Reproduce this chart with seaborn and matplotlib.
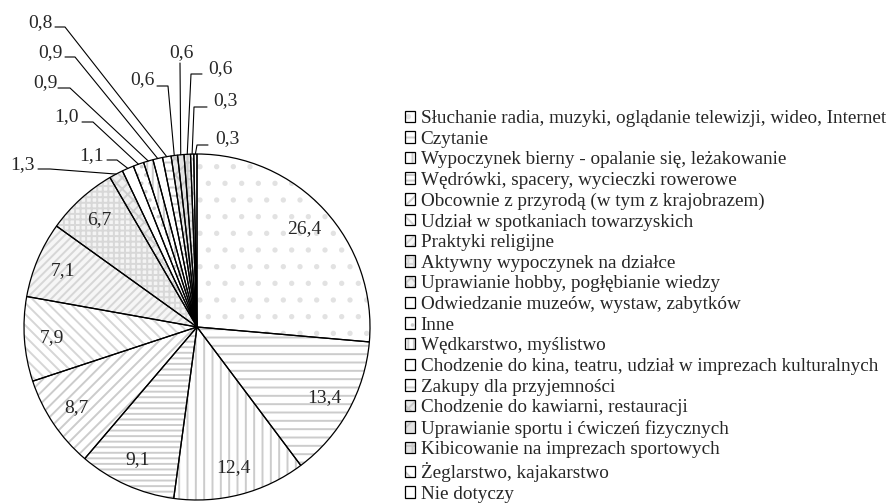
import numpy as np
import matplotlib
matplotlib.use('Agg')
import matplotlib.pyplot as plt
from matplotlib.patches import Rectangle
from matplotlib.legend_handler import HandlerTuple
import seaborn as sns

categories = [
    "Słuchanie radia, muzyki, oglądanie telewizji, wideo, Internet",
    "Czytanie",
    "Wypoczynek bierny - opalanie się, leżakowanie",
    "Wędrówki, spacery, wycieczki rowerowe",
    "Obcownie z przyrodą (w tym z krajobrazem)",
    "Udział w spotkaniach towarzyskich",
    "Praktyki religijne",
    "Aktywny wypoczynek na działce",
    "Uprawianie hobby, pogłębianie wiedzy",
    "Odwiedzanie muzeów, wystaw, zabytków",
    "Inne",
    "Wędkarstwo, myślistwo",
    "Chodzenie do kina, teatru, udział w imprezach kulturalnych",
    "Zakupy dla przyjemności",
    "Chodzenie do kawiarni, restauracji",
    "Uprawianie sportu i ćwiczeń fizycznych",
    "Kibicowanie na imprezach sportowych",
    "Żeglarstwo, kajakarstwo",
    "Nie dotyczy",
]
values = [26.4, 13.4, 12.4, 9.1, 8.7, 7.9, 7.1, 6.7, 1.3, 1.1, 1.0,
          0.9, 0.9, 0.8, 0.6, 0.6, 0.6, 0.3, 0.3]

hatches = ['.', '--', '||', '---', '///', '\\\\\\', '////', '+++',
           'xxx', '', '..', '|||', '', '--', 'xx', '//', '++', '\\\\', '']
fills = ['white', 'white', 'white', 'white', 'white', 'white', '#f6f6f6', '#f4f4f4',
         '#f0f0f0', 'white', 'white', 'white', 'white', 'white', '#e8e8e8', '#e2e2e2',
         '#e4e4e4', 'white', 'white']
hatch_colors = ['#e2e2e2', '#cccccc', '#cccccc', '#cccccc', '#cccccc', '#d6d6d6',
                '#d6d6d6', '#d8d8d8', '#d0d0d0', '#cccccc', '#cccccc', '#cccccc',
                '#cccccc', '#cccccc', '#c8c8c8', '#c8c8c8', '#c8c8c8', '#cccccc', '#cccccc']

# text x, text y, ha, line start x, line start y, elbow x  (pixels)
small_layout = [
    (35, 165, 'right', 38, 169, 50),
    (104, 156, 'right', 107, 160, 117),
    (79, 117, 'right', 82, 122, 93),
    (58, 83, 'right', 58, 88, 70),
    (63, 53, 'right', 65, 57, 75),
    (53, 23, 'right', 55, 27, 65),
    (155, 80, 'right', 157, 86, 168),
    (181, 53, 'center', 180, 63, 180),
    (208, 69, 'left', 202, 74, 191),
    (213, 101, 'left', 207, 107, 194),
    (215, 139, 'left', 208, 145, 197),
]

sns.set_theme(style='white')
plt.rcParams['font.family'] = ['Liberation Serif', 'DejaVu Serif']
plt.rcParams['hatch.linewidth'] = 1.4

W, H = 888, 504
cx, cy, R = 197, 327, 173

fig = plt.figure(figsize=(W / 100, H / 100), dpi=100)
ax = fig.add_axes([0, 0, 400 / W, 1])

wedges, _ = ax.pie(values, startangle=90, counterclock=False, colors=fills,
                   hatch=hatches, wedgeprops=dict(linewidth=0))
for w, hc in zip(wedges, hatch_colors):
    w.set_edgecolor(hc)
outline, _ = ax.pie(values, startangle=90, counterclock=False,
                    wedgeprops=dict(fill=False, edgecolor='black', linewidth=0.9))

ax.set_aspect('auto')
ax.set_xlim((0 - cx) / R, (400 - cx) / R)
ax.set_ylim((cy - H) / R, cy / R)
ax.axis('off')


def to_data(x, y):
    return (x - cx) / R, (cy - y) / R


def fmt(v):
    return f"{v:.1f}".replace('.', ',')


for i, w in enumerate(wedges):
    ang = np.deg2rad((w.theta1 + w.theta2) / 2)
    if i < 8:
        ax.text(0.84 * np.cos(ang), 0.84 * np.sin(ang), fmt(values[i]),
                ha='center', va='center', fontsize=14)
    else:
        tx, ty, ha, sx, sy, ex = small_layout[i - 8]
        ex_, ey_ = np.cos(ang), np.sin(ang)
        x0, y0 = to_data(sx, sy)
        x1, _ = to_data(ex, sy)
        ax.plot([x0, x1, ex_], [y0, y0, ey_], color='black', lw=0.8)
        txd, tyd = to_data(tx, ty)
        ax.text(txd, tyd, fmt(values[i]), ha=ha, va='center', fontsize=14)

handles = [(Rectangle((0, 0), 1, 1, facecolor=f, hatch=h, edgecolor=hc, lw=0),
            Rectangle((0, 0), 1, 1, fill=False, edgecolor='black', lw=0.9))
           for f, h, hc in zip(fills, hatches, hatch_colors)]
fig.legend(handles, categories, handler_map={tuple: HandlerTuple(ndivide=1)},
           loc='upper left', bbox_to_anchor=(405 / W, 1 - 110 / H),
           frameon=False, fontsize=13.8, labelspacing=0.19,
           handlelength=0.53, handleheight=0.53, handletextpad=0.28,
           borderpad=0, borderaxespad=0)

fig.savefig('out.png', dpi=100)
